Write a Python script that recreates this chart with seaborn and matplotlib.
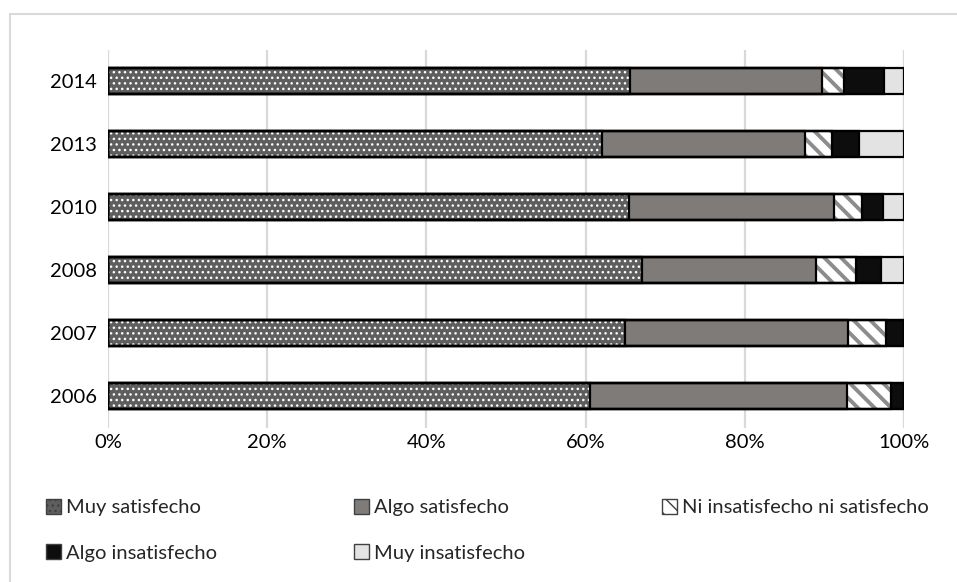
import matplotlib
matplotlib.use("Agg")
import matplotlib.pyplot as plt
from matplotlib.lines import Line2D
from matplotlib.patches import Patch
import numpy as np
import pandas as pd
import seaborn as sns

years = ["2014", "2013", "2010", "2008", "2007", "2006"]
muy_satisfecho = [65.6, 62.0, 65.5, 67.1, 65.0, 60.6]
algo_satisfecho = [24.1, 25.5, 25.7, 21.8, 28.0, 32.2]
ni_ni = [2.8, 3.5, 3.5, 5.1, 4.8, 5.6]
algo_insatisfecho = [5.0, 3.3, 2.7, 3.1, 2.2, 1.6]
muy_insatisfecho = [2.5, 5.7, 2.6, 2.9, 0.0, 0.0]

labels = ["Muy satisfecho", "Algo satisfecho", "Ni insatisfecho ni satisfecho",
          "Algo insatisfecho", "Muy insatisfecho"]
x_ticks = [0, 20, 40, 60, 80, 100]

# facecolor, hatch, hatch colour, hatch linewidth
STYLES = [
    ("#5e5e5e", "...", "white", 1.0),
    ("#7f7b79", "", "#7f7b79", 1.0),
    ("white", "\\\\", "#8c8c8c", 2.8),
    ("#0d0d0d", "", "#0d0d0d", 1.0),
    ("#e3e3e3", "", "#e3e3e3", 1.0),
]

sns.set_style("white")
plt.rcParams["font.family"] = ["Lato", "DejaVu Sans"]

series = [muy_satisfecho, algo_satisfecho, ni_ni, algo_insatisfecho, muy_insatisfecho]
df = pd.DataFrame({"year": years})
cum = np.cumsum(np.array(series), axis=0)
for k in range(len(series)):
    df[f"cum{k}"] = cum[k]

fig = plt.figure(figsize=(9.57, 5.82), dpi=100)
ax = fig.add_axes([108 / 957, 1 - 427.5 / 582, 796 / 957, 378 / 582])

BAR_W = 0.41

# fills: widest cumulative first so narrower segments sit on top
for k in reversed(range(len(series))):
    fc, hatch, hc, hlw = STYLES[k]
    with plt.rc_context({"hatch.linewidth": hlw}):
        sns.barplot(data=df, x=f"cum{k}", y="year", order=years, orient="h",
                    color=fc, saturation=1, width=BAR_W, ax=ax, errorbar=None)
    for p in ax.containers[-1]:
        p.set_facecolor(fc)
        p.set_hatch(hatch)
        p.set_edgecolor(hc)
        p.set_linewidth(0)
        if hasattr(p, "set_hatch_linewidth"):
            p.set_hatch_linewidth(hlw)

# outlines of every segment
for k in reversed(range(len(series))):
    sns.barplot(data=df, x=f"cum{k}", y="year", order=years, orient="h",
                color="black", saturation=1, width=BAR_W, ax=ax, errorbar=None)
    for p in ax.containers[-1]:
        p.set_facecolor("none")
        p.set_edgecolor("black")
        p.set_linewidth(1.6)

ax.set_xlim(0, 100)
ax.set_ylim(5.5, -0.5)
ax.set_xticks(x_ticks)
ax.set_xticklabels([f"{v}%" for v in x_ticks])
ax.set_xlabel("")
ax.set_ylabel("")
ax.xaxis.grid(True, color="#d9d9d9", linewidth=1.6)
ax.yaxis.grid(False)
ax.set_axisbelow(True)
for s in ax.spines.values():
    s.set_visible(False)
ax.tick_params(axis="both", length=0, labelsize=14.5, colors="black")
ax.tick_params(axis="y", pad=8)
ax.tick_params(axis="x", pad=5)

handles = []
for fc, hatch, hc, hlw in STYLES:
    handles.append(Patch(facecolor=fc, edgecolor="#404040", hatch=hatch, linewidth=1.0))
# legend fills column by column, so reorder to read row by row
leg_order = [0, 3, 1, 4, 2]
fig.legend([handles[i] for i in leg_order], [labels[i] for i in leg_order],
           ncol=3, loc="upper left",
           bbox_to_anchor=(46 / 957, 1 - 499 / 582), frameon=False,
           fontsize=14.5, handlelength=0.75, handleheight=0.75, handletextpad=0.25,
           columnspacing=6.8, labelspacing=1.38, borderpad=0, borderaxespad=0)

# light outer frame (left and top edges visible)
fig.add_artist(Line2D([10 / 957, 10 / 957], [0, 1 - 14 / 582], transform=fig.transFigure,
                      color="#d9d9d9", linewidth=1.5))
fig.add_artist(Line2D([10 / 957, 1], [1 - 14 / 582, 1 - 14 / 582], transform=fig.transFigure,
                      color="#d9d9d9", linewidth=1.5))

fig.savefig("out.png", dpi=100)
